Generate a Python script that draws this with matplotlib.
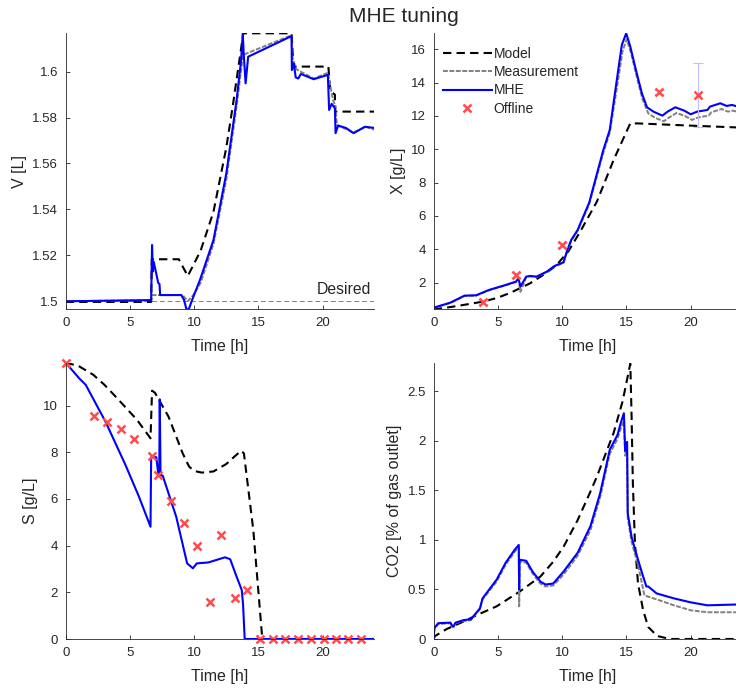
import matplotlib
matplotlib.use("Agg")
import matplotlib.pyplot as plt
from matplotlib.ticker import FuncFormatter

plt.rcParams["font.family"] = ["Liberation Sans", "DejaVu Sans"]

# ---- volume ----
v_model_t = [0, 6.65, 6.7, 8.8, 9.5, 10.5, 11.5, 12.5, 13.0, 13.82, 17.58, 17.72, 20.44, 20.6, 20.95, 20.97, 24]
v_model = [1.4997, 1.4997, 1.5183, 1.5183, 1.511, 1.522, 1.539, 1.567, 1.585, 1.6167, 1.6167, 1.6022,
           1.6022, 1.5915, 1.590, 1.5826, 1.5826]

v_meas_t = [0, 6.65, 6.75, 9.1, 9.5, 9.9, 10.5, 11.5, 12.5, 13.3, 13.8, 17.55, 17.65, 17.95, 19.3, 20.4,
            20.8, 21.0, 21.1, 21.6, 22.4, 23.3, 24]
v_meas = [1.5, 1.5005, 1.5027, 1.5027, 1.5, 1.5025, 1.508, 1.525, 1.553, 1.585, 1.6073, 1.6158, 1.606,
          1.601, 1.597, 1.5995, 1.5877, 1.585, 1.5768, 1.5755, 1.5735, 1.576, 1.5748]

v_mhe_t = [0, 6.65, 6.72, 6.78, 6.85, 7.2, 7.3, 7.35, 9.0, 9.2, 9.4, 9.6, 9.8, 10.45, 11.5, 12.5, 13.3,
           13.65, 13.78, 13.85, 14.0, 14.2, 17.58, 17.6, 17.75, 17.9, 18.1, 18.3, 19.3, 20.4, 20.5, 20.7,
           20.95, 21.0, 21.2, 21.8, 22.4, 23.3, 24]
v_mhe = [1.5, 1.5005, 1.5245, 1.513, 1.5172, 1.508, 1.5075, 1.5027, 1.5027, 1.5007, 1.4965, 1.4968, 1.5,
         1.5093, 1.5267, 1.5557, 1.5877, 1.605, 1.6167, 1.608, 1.5949, 1.6065, 1.6155, 1.6007, 1.6035,
         1.5975, 1.597, 1.599, 1.5967, 1.5986, 1.5833, 1.586, 1.584, 1.5732, 1.5765, 1.5755, 1.5732, 1.576,
         1.5755]

# ---- biomass ----
x_model_t = [0, 1, 2, 3, 3.9, 5, 6, 6.7, 7.5, 8.5, 9.5, 10.5, 11.4, 12.7, 14.0, 15.3, 16, 20, 24]
x_model = [0.4, 0.5, 0.62, 0.75, 0.87, 1.1, 1.4, 1.66, 1.96, 2.45, 3.0, 3.9, 5.06, 6.86, 9.36, 11.56,
           11.55, 11.42, 11.3]

x_mhe_t = [0, 0.1, 1.3, 2.4, 3.3, 4.3, 5.6, 6.4, 6.6, 6.75, 7.2, 7.5, 8.0, 8.8, 9.4, 10.1, 10.4, 10.7,
           11.2, 12.1, 13.2, 13.7, 14.25, 14.64, 14.98, 15.3, 15.8, 16.2, 16.6, 17.1, 17.8, 18.2, 18.8,
           19.5, 20.0, 20.5, 21.3, 21.5, 22.3, 22.8, 23.2, 24]
x_mhe = [0.4, 0.52, 0.8, 1.22, 1.24, 1.56, 1.86, 2.06, 2.26, 1.76, 2.36, 2.4, 2.36, 2.66, 3.0, 3.22,
         3.96, 4.56, 5.16, 6.8, 9.96, 11.16, 14.16, 16.26, 16.96, 16.16, 14.56, 13.36, 12.52, 12.26, 12.02,
         12.26, 12.52, 12.32, 12.1, 12.26, 12.36, 12.56, 12.76, 12.6, 12.66, 12.5]

x_meas_t = [0, 0.1, 1.3, 2.4, 3.3, 4.3, 5.6, 6.4, 6.6, 6.75, 7.2, 7.5, 8.0, 8.8, 9.4, 10.1, 10.4, 10.7,
            11.2, 12.1, 13.2, 13.7, 14.3, 14.7, 15.02, 15.35, 15.85, 16.25, 16.7, 17.2, 17.9, 18.3, 18.9,
            19.6, 20.1, 20.6, 21.4, 21.6, 22.4, 22.9, 23.3, 24]
x_meas = [0.4, 0.5, 0.78, 1.2, 1.22, 1.54, 1.84, 2.04, 2.2, 1.45, 2.33, 2.38, 2.34, 2.63, 2.97, 3.18,
          3.9, 4.5, 5.1, 6.7, 9.8, 11.0, 13.9, 15.9, 16.6, 15.8, 14.2, 13.0, 12.15, 11.9, 11.68, 11.9, 12.18,
          11.98, 11.76, 11.92, 12.02, 12.22, 12.42, 12.26, 12.32, 12.18]

x_off_t = [3.8, 6.4, 10.0, 17.5, 20.6]
x_off = [0.85, 2.45, 4.25, 13.45, 13.25]
x_off_err = [0.12, 0.12, 0.1, 0.12, 1.9]

# ---- substrate ----
s_model_t = [0, 1, 2.15, 3, 4.0, 5.55, 6.6, 6.72, 6.95, 8.0, 9.1, 9.6, 10.0, 10.6, 11.5, 12.5, 13.2,
             13.66, 13.87, 14.6, 15.3, 24]
s_model = [11.84, 11.7, 11.32, 10.9, 10.32, 9.39, 8.6, 10.64, 10.55, 9.53, 7.96, 7.39, 7.2, 7.13, 7.18,
           7.5, 7.85, 8.07, 7.95, 4.67, 0, 0]

s_mhe_t = [0, 1.05, 1.56, 3.1, 4.65, 5.7, 6.6, 6.65, 7.05, 7.2, 7.28, 7.32, 7.38, 7.55, 8.6, 9.45, 9.9,
           10.2, 11.1, 12.1, 12.4, 12.8, 13.3, 13.7, 13.8, 13.93, 24]
s_mhe = [11.84, 11.17, 10.89, 9.31, 7.46, 6.1, 4.81, 7.79, 7.79, 7.1, 7.1, 10.27, 7.03, 7.0, 5.24, 3.24,
         3.03, 3.24, 3.28, 3.45, 3.5, 3.42, 2.67, 2.1, 1.5, 0, 0]

s_off_t = [0, 2.2, 3.2, 4.3, 5.3, 6.7, 7.2, 8.2, 9.2, 10.2, 11.2, 12.1, 13.2, 14.1, 15.1, 16.1, 17.1,
           18.1, 19.1, 20.1, 21.0, 22.0, 23.0]
s_off = [11.84, 9.56, 9.29, 8.99, 8.56, 7.83, 7.03, 5.92, 4.99, 3.99, 1.57, 4.44, 1.77, 2.1, 0, 0, 0, 0, 0,
         0, 0, 0, 0]

# ---- CO2 ----
c_model_t = [0, 0.1, 1, 2.3, 3.5, 4.9, 6.7, 8.3, 9.3, 10.1, 11.2, 12.1, 12.7, 14.0, 14.7, 15.3, 15.4,
             15.5, 15.66, 15.9, 16.3, 16.7, 17.4, 18.4, 24]
c_model = [0, 0.03, 0.1, 0.175, 0.25, 0.33, 0.48, 0.63, 0.78, 0.93, 1.2, 1.46, 1.64, 2.08, 2.4, 2.78,
           2.25, 1.57, 0.97, 0.56, 0.29, 0.12, 0.03, 0, 0]

c_mhe_t = [0, 0.05, 0.35, 1.3, 1.45, 1.55, 1.7, 2.3, 2.9, 3.6, 3.8, 4.9, 5.6, 6.3, 6.62, 6.65, 6.68, 7.2,
           7.7, 8.3, 8.7, 9.3, 10.1, 11.2, 12.2, 12.95, 13.7, 14.3, 14.6, 14.8, 14.9, 15.05, 15.1, 15.4,
           15.9, 16.3, 16.55, 16.7, 17.35, 18.7, 20.0, 21.3, 24]
c_mhe = [0, 0.11, 0.16, 0.165, 0.13, 0.13, 0.165, 0.19, 0.2, 0.31, 0.41, 0.6, 0.77, 0.9, 0.95, 0.5, 0.8,
         0.79, 0.68, 0.58, 0.55, 0.56, 0.68, 0.87, 1.14, 1.47, 1.91, 2.06, 2.2, 2.28, 1.9, 1.99, 1.27,
         1.03, 0.8, 0.63, 0.53, 0.53, 0.46, 0.41, 0.37, 0.34, 0.35]

c_meas_t = [0, 0.05, 0.35, 1.3, 1.45, 1.55, 1.7, 2.3, 2.9, 3.6, 3.8, 4.9, 5.6, 6.3, 6.62, 6.65, 6.7, 7.2,
            7.7, 8.3, 8.7, 9.3, 10.1, 11.2, 12.2, 12.95, 13.7, 14.3, 14.6, 14.8, 14.9, 15.05, 15.1, 15.4,
            15.9, 16.4, 17.35, 18.7, 20.0, 21.3, 24]
c_meas = [0, 0.1, 0.15, 0.16, 0.12, 0.12, 0.16, 0.18, 0.19, 0.3, 0.4, 0.58, 0.75, 0.88, 0.93, 0.33, 0.78,
          0.77, 0.66, 0.56, 0.53, 0.54, 0.65, 0.84, 1.1, 1.43, 1.87, 2.02, 2.14, 2.2, 1.85, 1.93, 1.22,
          0.98, 0.75, 0.44, 0.4, 0.34, 0.29, 0.27, 0.27]

BLUE = (0, 0, 1)
GRAY = (0.5, 0.5, 0.5)
RED = (1, 0.3, 0.3)
AXC = (0.15, 0.15, 0.15)
LABEL_SIZE = 11.5

fig = plt.figure(figsize=(7.36, 6.89), dpi=100)
W, H = 736.0, 689.0


def make_axes(x0, y0, x1, y1):
    ax = fig.add_axes([x0 / W, 1 - y1 / H, (x1 - x0) / W, (y1 - y0) / H])
    for side in ("top", "right"):
        ax.spines[side].set_visible(False)
    for side in ("left", "bottom"):
        ax.spines[side].set_color(AXC)
        ax.spines[side].set_linewidth(0.6)
    ax.tick_params(direction="in", length=3, width=0.6, colors=AXC, labelsize=9.5, pad=5.5)
    ax.set_xlim(0, 24)
    ax.set_xticks([0, 5, 10, 15, 20])
    ax.yaxis.set_major_formatter(FuncFormatter(lambda v, p: "%g" % round(v, 4)))
    ax.set_xlabel("Time [h]", fontsize=LABEL_SIZE, color=AXC, labelpad=7.5)
    return ax


dash = dict(color="k", lw=1.5, dashes=(4, 2.5))
meas = dict(color=GRAY, lw=1.4, dashes=(2.5, 0.8))
mhe = dict(color=BLUE, lw=1.5)
offline = dict(marker="x", color=RED, ms=5.5, mew=1.8, ls="none")

# volume
ax = make_axes(65.7, 33.3, 374.1, 309.3)
ax.axhline(1.5, color=GRAY, lw=0.7, dashes=(5, 3))
ax.plot(v_model_t, v_model, **dash)
ax.plot(v_meas_t, v_meas, **meas)
ax.plot(v_mhe_t, v_mhe, **mhe)
ax.text(23.8, 1.5017, "Desired", ha="right", va="bottom", fontsize=11.3, color=AXC)
ax.set_ylim(1.4965, 1.6167)
ax.set_yticks([1.5, 1.52, 1.54, 1.56, 1.58, 1.6])
ax.set_ylabel("V [L]", fontsize=LABEL_SIZE, color=AXC)

# biomass
ax = make_axes(433.7, 33.3, 742.1, 309.3)
ax.plot(x_model_t, x_model, label="Model", **dash)
ax.plot(x_meas_t, x_meas, label="Measurement", **meas)
ax.plot(x_mhe_t, x_mhe, label="MHE", **mhe)
ax.errorbar(x_off_t, x_off, yerr=x_off_err, fmt="none", ecolor=(0.75, 0.75, 1.0), elinewidth=0.8,
            capsize=3.5, capthick=0.8)
ax.plot(x_off_t, x_off, label="Offline", **offline)
ax.set_ylim(0.4, 16.96)
ax.set_yticks(range(2, 17, 2))
ax.set_ylabel("X [g/L]", fontsize=LABEL_SIZE, color=AXC)
ax.legend(loc="upper left", bbox_to_anchor=(0.03, 0.95), frameon=False, fontsize=10,
          handlelength=3.5, handletextpad=0.15, labelspacing=0.3, borderpad=0, borderaxespad=0,
          labelcolor=AXC)

# substrate
ax = make_axes(65.7, 362.7, 374.1, 639.0)
ax.plot(s_model_t, s_model, **dash)
ax.plot(s_mhe_t, s_mhe, **mhe)
ax.plot(s_off_t, s_off, clip_on=False, **offline)
ax.set_ylim(0, 11.84)
ax.set_yticks(range(0, 11, 2))
ax.set_ylabel("S [g/L]", fontsize=LABEL_SIZE, color=AXC)

# CO2
ax = make_axes(433.7, 362.7, 742.1, 639.0)
ax.plot(c_model_t, c_model, **dash)
ax.plot(c_meas_t, c_meas, **meas)
ax.plot(c_mhe_t, c_mhe, **mhe)
ax.set_ylim(0, 2.79)
ax.set_yticks([0, 0.5, 1, 1.5, 2, 2.5])
ax.set_ylabel("CO2 [% of gas outlet]", fontsize=LABEL_SIZE, color=AXC)

fig.text(404 / W, 1 - 17 / H, "MHE tuning", ha="center", va="center", fontsize=15, color=AXC)

fig.savefig("out.png", dpi=100)
